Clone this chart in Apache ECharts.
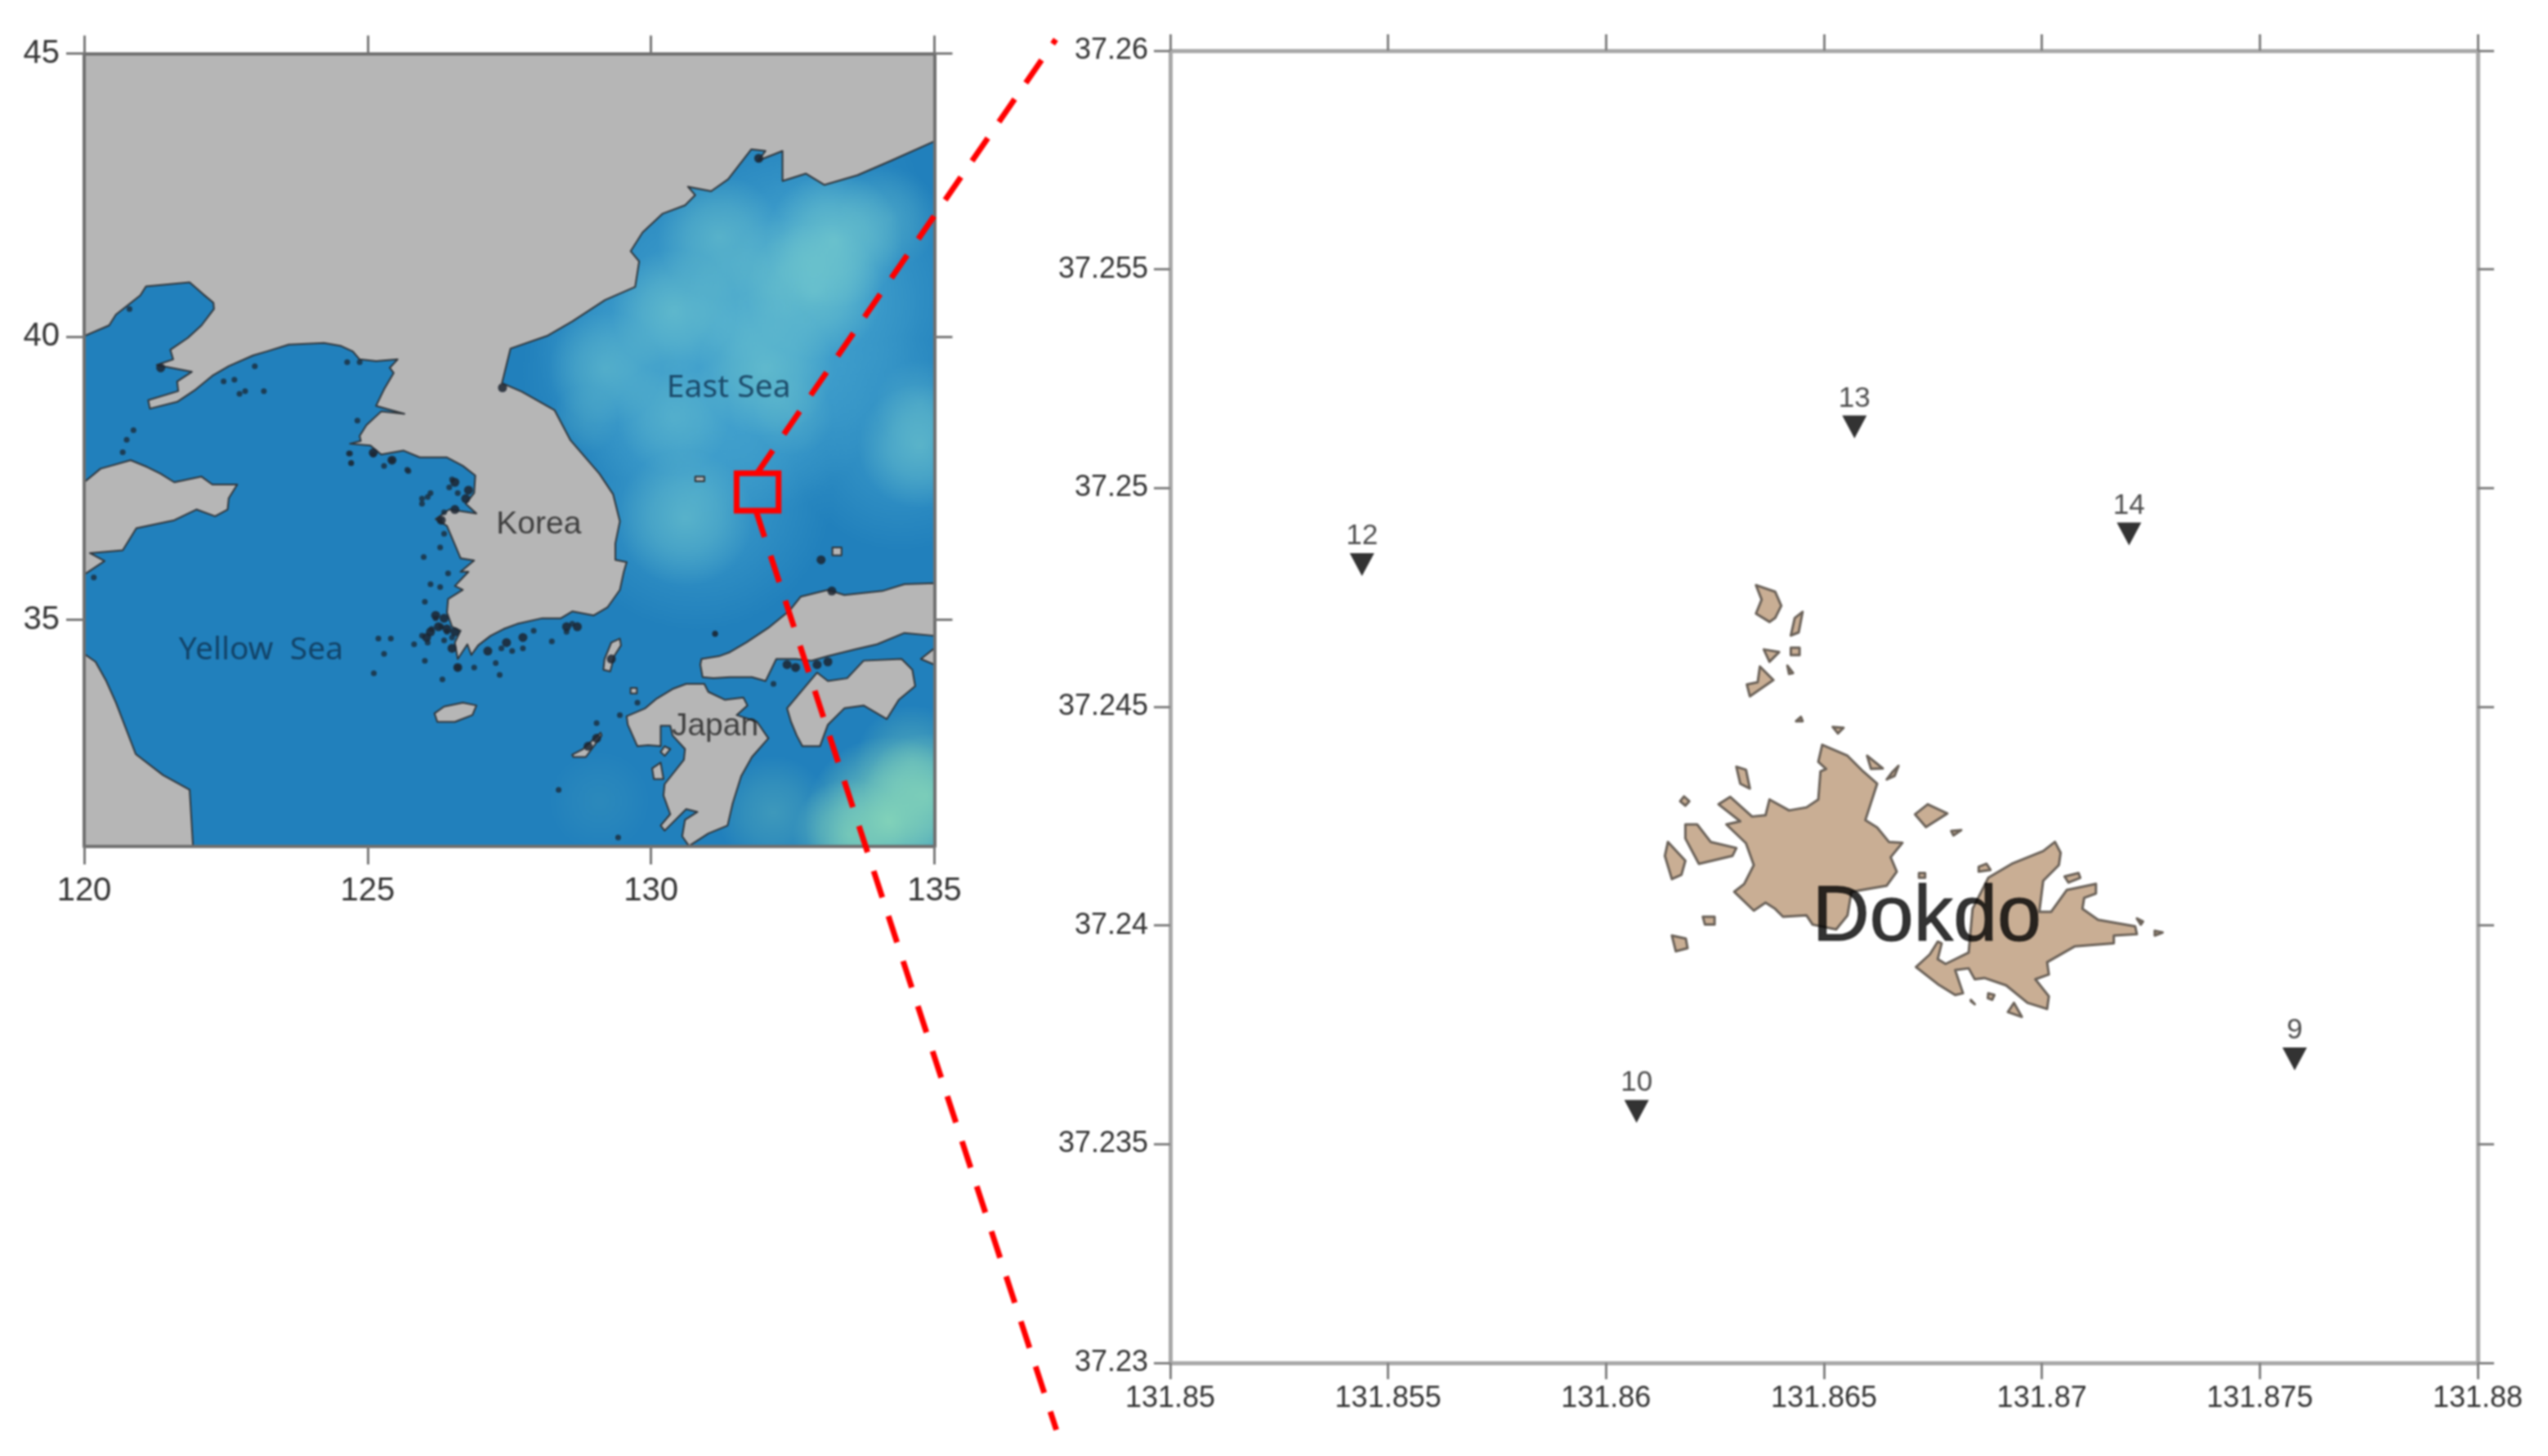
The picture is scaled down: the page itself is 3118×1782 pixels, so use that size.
<!DOCTYPE html>
<html lang="en">
<head>
<meta charset="UTF-8">
<title>Dokdo</title>
<style>
html,body{margin:0;padding:0;background:#fff;}
#chart{width:3118px;height:1782px;filter:blur(0.8px);}
</style>
</head>
<body>
<div id="chart"></div>
<script src="https://cdn.jsdelivr.net/npm/echarts@6/dist/echarts.min.js"></script>
<script>
// ticks
var mapLonTicks = [120, 125, 130, 135];
var mapLatTicks = [35, 40, 45];
var dokdoLonTicks = [131.85, 131.855, 131.86, 131.865, 131.87, 131.875, 131.88];
var dokdoLatTicks = [37.23, 37.235, 37.24, 37.245, 37.25, 37.255, 37.26];

// coast lines, lon/lat
var northLand = [[120,40.01],[120.44,40.20],[120.56,40.39],[120.99,40.73],[121.09,40.89],[121.86,40.96],[122.10,40.75],[122.28,40.60],[122.29,40.49],[122.07,40.20],[121.83,39.98],[121.52,39.77],[121.57,39.60],[121.28,39.50],[121.90,39.38],[121.64,39.21],[121.66,39.04],[121.13,38.88],[121.16,38.73],[121.64,38.85],[121.97,39.07],[122.26,39.31],[122.55,39.48],[122.98,39.67],[123.22,39.74],[123.61,39.86],[124.23,39.89],[124.52,39.84],[124.74,39.74],[124.86,39.60],[125.15,39.57],[125.53,39.60],[125.39,39.45],[125.46,39.36],[125.29,39.07],[125.15,38.78],[125.39,38.71],[125.65,38.64],[125.24,38.68],[124.98,38.44],[124.86,38.25],[124.88,38.16],[124.69,38.11],[125.05,38.08],[125.24,37.92],[125.63,37.99],[125.92,37.87],[126.40,37.87],[126.68,37.72],[126.90,37.55],[126.88,37.24],[126.73,37.05],[126.92,36.88],[126.44,36.95],[126.20,36.78],[126.40,36.66],[126.54,36.33],[126.64,36.09],[126.88,36.05],[126.64,35.85],[126.78,35.85],[126.54,35.60],[126.68,35.53],[126.42,35.37],[126.40,35.13],[126.49,34.88],[126.64,34.81],[126.54,34.60],[126.59,34.31],[126.76,34.57],[126.83,34.38],[126.95,34.55],[127.17,34.72],[127.40,34.84],[127.64,34.93],[128.08,35.03],[128.41,35.03],[128.61,35.15],[128.99,35.08],[129.23,35.22],[129.45,35.53],[129.52,35.85],[129.57,36.02],[129.37,36.06],[129.37,36.35],[129.45,36.74],[129.33,37.22],[129.09,37.58],[128.58,38.17],[128.30,38.70],[127.72,39.03],[127.37,39.18],[127.52,39.79],[128.18,40.02],[128.61,40.27],[129.19,40.65],[129.72,40.88],[129.79,41.33],[129.64,41.51],[129.85,41.84],[130.20,42.17],[130.60,42.32],[130.78,42.50],[130.65,42.65],[131.06,42.57],[131.36,42.78],[131.77,43.31],[132.02,43.28],[131.89,43.11],[132.32,43.28],[132.32,42.75],[132.73,42.88],[133.06,42.68],[133.64,42.85],[134.24,43.11],[135,43.45],[135,45],[120,45]];
var shandong = [[120,37.43],[120.29,37.67],[120.82,37.82],[121.11,37.70],[121.35,37.58],[121.59,37.43],[122.07,37.53],[122.26,37.39],[122.70,37.39],[122.55,37.15],[122.53,36.95],[122.31,36.83],[121.98,36.95],[121.59,36.76],[120.92,36.62],[120.68,36.23],[120.10,36.18],[120.36,36.04],[120,35.80]];
var jiangsu = [[120,34.40],[120.2,34.26],[120.39,33.92],[120.56,33.54],[120.91,32.63],[121.39,32.26],[121.86,32.0],[121.92,31],[120,31]];
var jeju = [[126.18,33.35],[126.35,33.47],[126.68,33.54],[126.92,33.49],[126.85,33.32],[126.54,33.20],[126.23,33.20]];
var tsushima = [[129.45,34.67],[129.47,34.55],[129.35,34.36],[129.28,34.09],[129.16,34.12],[129.18,34.31],[129.30,34.60]];
var honshu = [[130.89,34.31],[131.20,34.36],[131.39,34.43],[131.68,34.60],[132.07,34.86],[132.45,35.17],[132.64,35.41],[133.12,35.53],[133.41,35.44],[134.08,35.51],[134.47,35.63],[135,35.65],[135,34.72],[134.47,34.77],[133.99,34.57],[133.60,34.48],[133.12,34.36],[132.83,34.28],[132.55,34.31],[132.21,34.31],[132.02,33.92],[131.78,33.99],[131.39,33.99],[131.10,33.97],[130.91,33.99],[130.87,34.21]];
var kyushu = [[130.94,33.87],[131.01,33.73],[131.30,33.59],[131.63,33.63],[131.70,33.49],[131.51,33.32],[131.87,33.20],[132.07,32.91],[131.78,32.58],[131.59,32.24],[131.44,31.76],[131.35,31.37],[131.01,31.23],[130.67,31.01],[130.55,31.18],[130.60,31.47],[130.82,31.61],[130.62,31.66],[130.24,31.28],[130.17,31.37],[130.34,31.57],[130.22,31.90],[130.24,32.10],[130.58,32.53],[130.60,32.72],[130.38,32.96],[130.34,33.13],[130.17,33.13],[130.17,32.77],[129.95,32.79],[129.76,32.77],[129.59,33.15],[129.57,33.30],[129.90,33.44],[130.10,33.61],[130.38,33.78],[130.62,33.87]];
var shikoku = [[132.40,33.44],[132.93,34.07],[133.12,33.92],[133.46,33.97],[133.75,34.28],[134.42,34.31],[134.61,34.12],[134.66,33.83],[134.37,33.59],[134.16,33.25],[133.75,33.49],[133.41,33.44],[133.12,33.15],[132.98,32.77],[132.67,32.77],[132.57,32.96],[132.47,33.20]];
var awaji = [[134.76,34.31],[135,34.50],[135,34.21]];
var amakusa = [[130.02,32.38],[130.17,32.48],[130.22,32.19],[130.05,32.19]];
var shimabara = [[130.24,32.77],[130.34,32.72],[130.24,32.60],[130.17,32.67]];
var goto = [[128.61,32.62],[128.80,32.72],[129.11,33.01],[129.13,32.96],[128.85,32.58],[128.63,32.58]];
var iki = [[129.64,33.80],[129.75,33.80],[129.75,33.70],[129.64,33.70]];
var oki = [[133.2,36.28],[133.36,36.28],[133.36,36.14],[133.2,36.14]];
var ulleung = [[130.78,37.53],[130.94,37.53],[130.94,37.45],[130.78,37.45]];
var mapLand = [northLand, shandong, jiangsu, jeju, tsushima, honshu, kyushu, shikoku, awaji, amakusa, shimabara, goto, iki, oki, ulleung];

// small rocks along the coasts
var islets = [[125.43,37.82],[125.29,37.72],[124.69,37.94],[124.71,37.77],[125.70,37.65],[126.49,37.48],[126.59,37.24],[126.44,37.34],[126.35,36.90],[126.06,37.17],[125.96,37.05],[126.28,36.76],[126.35,36.52],[125.99,36.11],[126.28,36.28],[126.42,35.82],[126.11,35.63],[126.28,35.58],[126.01,35.32],[126.20,35.03],[126.30,34.88],[126.13,34.84],[125.96,34.72],[126.06,34.60],[126.40,34.79],[126.49,34.69],[126.35,34.64],[126.01,34.28],[126.59,34.16],[126.88,34.16],[127.33,34.03],[125.19,34.67],[125.41,34.67],[125.29,34.40],[125.11,34.06],[125.82,34.57],[126.32,33.95],[127.26,34.24],[127.74,34.50],[127.55,34.45],[127.36,34.50],[128.25,34.62],[128.51,34.79],[128.61,34.93],[127.93,34.81],[131.13,34.75],[128.37,32.0],[129.42,31.16],[122.46,39.21],[122.65,39.24],[122.84,39.04],[123.17,39.04],[122.74,38.99],[123.01,39.48],[120.87,38.35],[120.75,38.18],[120.68,37.96],[124.64,39.55],[124.86,39.55],[124.82,38.52],[124.67,37.94],[124.71,37.77],[125.1,37.92],[125.72,37.63],[125.96,37.14],[126.11,37.24],[120.80,40.49],[120.17,35.75],[132.16,33.87],[131.13,34.76],[129.76,33.54],[129.45,33.32],[129.04,33.18]];
var rockClusters = [[121.35,39.45],[125.43,37.82],[125.1,37.95],[126.54,37.43],[126.78,37.29],[126.73,37.14],[126.54,36.95],[126.30,36.76],[126.20,35.08],[126.35,35.03],[126.25,34.88],[126.04,34.69],[126.11,34.79],[126.40,34.84],[126.54,34.79],[126.49,34.50],[126.59,34.16],[127.74,34.69],[127.45,34.60],[127.12,34.45],[128.51,34.88],[128.70,34.88],[129.30,34.31],[132.40,34.21],[132.55,34.16],[132.93,34.21],[133.12,34.26],[133.19,35.51],[133.0,36.06],[127.38,39.1],[131.9,43.15],[129.04,32.91],[128.89,32.77]];

// lighter water, lon, lat, radius in degrees, strength
var eastSeaBase = [[131.3,40.3,3.4,0.7],[133.4,40.7,2.4,0.55],[130.8,37.2,2.4,0.55],[134.4,38.1,1.9,0.45],[129.6,39.4,1.9,0.4],[132,38.8,1.9,0.35],[133,42.4,1.8,0.3]];
var eastSeaPeaks = [[131.21,41.76,1.1,0.5],[133.23,41.71,1.2,0.7],[132.88,40.80,1.2,0.6],[130.40,40.45,1.1,0.55],[129.19,39.44,1.0,0.4],[132.02,39.44,1.2,0.55],[130.40,38.58,1.0,0.35],[134.75,38.07,1.1,0.55],[130.6,36.8,1.2,0.5],[131.6,40.6,1.0,0.3],[132.3,41.2,0.9,0.3],[128.83,38.53,0.6,0.2],[134.2,42.1,0.9,0.3],[132.5,38.6,0.7,0.25],[134.75,38.8,0.8,0.25]];
var southPeaks = [[134.2,31.45,1.5,0.9],[134.85,31.9,1.1,0.7],[133.5,31.2,1.0,0.6],[134.6,32.5,1.0,0.4],[132.16,31.6,1.0,0.28],[129.09,31.8,0.9,0.1]];

// zoom box and the two dashed leaders
var zoomBox = [[131.51,37.59],[132.25,37.59],[132.25,36.93],[131.51,36.93]];
var leaderUp = [[131.87,37.59],[137.14,45.25]];
var leaderDown = [[131.85,36.93],[137.15,20.70]];

var mapNames = [[123.12,34.46,'Yellow  Sea'],[131.37,39.1,'East Sea']];
var mapLandNames = [[128.02,36.68,'Korea'],[131.13,33.12,'Japan']];

// Dokdo
var dokdoWest = [[131.86496,37.24413],[131.86554,37.24388],[131.86590,37.24352],[131.86622,37.24324],[131.86595,37.24241],[131.86622,37.24224],[131.86649,37.24191],[131.86680,37.24189],[131.86653,37.24156],[131.86667,37.24123],[131.86644,37.24091],[131.86563,37.24077],[131.86554,37.24023],[131.86528,37.23991],[131.86474,37.24002],[131.86460,37.24023],[131.86406,37.24020],[131.86388,37.24038],[131.86366,37.24052],[131.86339,37.24034],[131.86294,37.24077],[131.86317,37.24095],[131.86339,37.24138],[131.86321,37.24188],[131.86276,37.24231],[131.86308,37.24238],[131.86258,37.24277],[131.86285,37.24294],[131.86335,37.24249],[131.86366,37.24252],[131.86375,37.24288],[131.86420,37.24263],[131.86460,37.24270],[131.86487,37.24288],[131.86492,37.24352],[131.86505,37.24358],[131.86487,37.24374]];
var dokdoEast = [[131.87030,37.24191],[131.87043,37.24166],[131.87039,37.24138],[131.87003,37.24102],[131.86994,37.24031],[131.87021,37.24031],[131.87057,37.24081],[131.87124,37.24095],[131.87124,37.24073],[131.87097,37.24063],[131.87093,37.24038],[131.87129,37.24013],[131.87214,37.23998],[131.87218,37.23980],[131.87165,37.23977],[131.87165,37.23959],[131.87075,37.23952],[131.87012,37.23916],[131.87016,37.23888],[131.86985,37.23877],[131.87016,37.23838],[131.87012,37.23809],[131.86967,37.23823],[131.86918,37.23863],[131.86868,37.23880],[131.86846,37.23877],[131.86832,37.23902],[131.86801,37.23898],[131.86819,37.23845],[131.86801,37.23841],[131.86761,37.23866],[131.86711,37.23905],[131.86743,37.23934],[131.86761,37.23963],[131.86770,37.23959],[131.86761,37.23923],[131.86779,37.23912],[131.86832,37.23938],[131.86841,37.24038],[131.86877,37.24109],[131.86931,37.24141],[131.87003,37.24170]];
var dokdoRocks = [
  [[131.86344,37.24778],[131.86388,37.24763],[131.86402,37.24731],[131.86388,37.24703],[131.86375,37.24694],[131.86344,37.24713],[131.86357,37.24745]],
  [[131.86451,37.24717],[131.86442,37.24670],[131.86424,37.24663],[131.86433,37.24703]],
  [[131.86362,37.24631],[131.86397,37.24625],[131.86375,37.24603]],
  [[131.86424,37.24635],[131.86444,37.24635],[131.86444,37.24618],[131.86424,37.24618]],
  [[131.86353,37.24592],[131.86384,37.24561],[131.86330,37.24524],[131.86323,37.24551],[131.86348,37.24556]],
  [[131.86416,37.24594],[131.86429,37.24577],[131.86420,37.24575]],
  [[131.86447,37.24477],[131.86451,37.24467],[131.86436,37.24467]],
  [[131.86520,37.24454],[131.86545,37.24452],[131.86532,37.24439]],
  [[131.86299,37.24363],[131.86321,37.24356],[131.86330,37.24313],[131.86308,37.24324]],
  [[131.86599,37.24388],[131.86635,37.24359],[131.86608,37.24358]],
  [[131.86671,37.24365],[131.86662,37.24342],[131.86644,37.24334],[131.86658,37.24352]],
  [[131.86179,37.24295],[131.86191,37.24284],[131.86182,37.24274],[131.86170,37.24284]],
  [[131.86182,37.24231],[131.86209,37.24231],[131.86240,37.24191],[131.86299,37.24177],[131.86290,37.24159],[131.86213,37.24141],[131.86182,37.24199]],
  [[131.86142,37.24191],[131.86182,37.24148],[131.86173,37.24116],[131.86151,37.24106],[131.86135,37.24159]],
  [[131.86222,37.24020],[131.86249,37.24020],[131.86249,37.24002],[131.86227,37.24002]],
  [[131.86151,37.23977],[131.86183,37.23970],[131.86187,37.23948],[131.86160,37.23941]],
  [[131.86738,37.24277],[131.86783,37.24256],[131.86734,37.24225],[131.86709,37.24254]],
  [[131.86792,37.24216],[131.86815,37.24218],[131.86797,37.24206]],
  [[131.86855,37.24134],[131.86873,37.24141],[131.86882,37.24127],[131.86855,37.24123]],
  [[131.86718,37.24120],[131.86732,37.24120],[131.86732,37.24109],[131.86718,37.24109]],
  [[131.87052,37.24112],[131.87084,37.24120],[131.87088,37.24109],[131.87061,37.24098]],
  [[131.87218,37.24016],[131.87232,37.24009],[131.87227,37.24002]],
  [[131.87259,37.23988],[131.87277,37.23984],[131.87259,37.23977]],
  [[131.86877,37.23845],[131.86891,37.23841],[131.86886,37.23830],[131.86876,37.23834]],
  [[131.86837,37.23830],[131.86846,37.23820],[131.86837,37.23827]],
  [[131.86936,37.23823],[131.86954,37.23791],[131.86922,37.23802]]
];
var stationIds = ['12','13','14','9','10'];
var stationLon = [131.8544,131.8657,131.8720,131.8758,131.8607];
var stationLat = [37.24825,37.2514,37.24895,37.23695,37.23575];
var dokdoName = [[131.86736,37.24015,'Dokdo']];

var fontName = '"Liberation Sans", Arial, sans-serif';
var chart = echarts.init(document.getElementById('chart'));

function axisFor(gridIndex, position, min, max, ticks, opt){
  var labelled = position == 'bottom' || position == 'left';
  return {
    type: 'value', gridIndex: gridIndex, position: position, min: min, max: max, z: 5,
    axisLine: {show: true, onZero: false, lineStyle: {color: opt.line, width: opt.lineWidth}},
    axisTick: {show: true, customValues: ticks, length: opt.tick, lineStyle: {color: opt.tickColor, width: 3}},
    axisLabel: {
      show: labelled, customValues: ticks, margin: position == 'left' ? opt.marginY : opt.marginX,
      fontFamily: fontName, fontSize: opt.font, color: '#333',
      formatter: function(v){ return String(+v.toFixed(3)); }
    },
    splitLine: {show: false}
  };
}
var mapAxis = {line: '#6f6f6f', lineWidth: 4, tick: 22, tickColor: '#777', font: 40, marginY: 30, marginX: 35};
var dokdoAxis = {line: '#a8a8a8', lineWidth: 5, tick: 20, tickColor: '#808080', font: 36, marginY: 27, marginX: 26};

function polygonSeries(coords, xi, yi, fill, stroke, width, z){
  return {
    type: 'custom', xAxisIndex: xi, yAxisIndex: yi, clip: true, silent: true, z: z,
    data: coords,
    renderItem: function(params, api){
      if (params.dataIndex !== 0) return;
      return {type: 'polygon', shape: {points: coords.map(function(p){ return api.coord(p); })},
        style: {fill: fill, stroke: stroke, lineWidth: width, lineJoin: 'round'}};
    }
  };
}
function blobSeries(list, rgb, z){
  return {
    type: 'custom', xAxisIndex: 0, yAxisIndex: 0, clip: true, silent: true, z: z,
    data: list,
    renderItem: function(params, api){
      var c = api.coord([api.value(0), api.value(1)]);
      var r = api.size([api.value(2), 0])[0];
      var a = api.value(3);
      return {type: 'circle', shape: {cx: c[0], cy: c[1], r: r},
        style: {fill: new echarts.graphic.RadialGradient(0.5, 0.5, 0.5, [
          {offset: 0, color: 'rgba(' + rgb + ',' + a + ')'},
          {offset: 0.5, color: 'rgba(' + rgb + ',' + (a * 0.6) + ')'},
          {offset: 1, color: 'rgba(' + rgb + ',0)'}
        ])}};
    }
  };
}
function textSeries(list, xi, yi, size, color, family, border){
  return {
    type: 'scatter', xAxisIndex: xi, yAxisIndex: yi, symbolSize: 1, silent: true, z: 8,
    itemStyle: {color: 'transparent'},
    data: list,
    label: {show: true, position: 'inside', fontFamily: family, fontSize: size, color: color,
      textBorderColor: color, textBorderWidth: border || 0,
      formatter: function(p){ return p.data[2]; }}
  };
}
// the leaders run out of the map panel, so no clipping here
function redLine(points, closed, dash){
  return {
    type: 'custom', xAxisIndex: 0, yAxisIndex: 0, clip: false, silent: true, z: 12,
    data: points,
    renderItem: function(params, api){
      if (params.dataIndex !== 0) return;
      return {type: closed ? 'polygon' : 'polyline',
        shape: {points: points.map(function(p){ return api.coord(p); })},
        style: {fill: 'none', stroke: '#ff0000', lineWidth: 7, lineDash: dash, lineCap: 'butt', lineJoin: 'miter'}};
    }
  };
}

var series = [];
series.push(blobSeries(eastSeaBase, '80,175,212', 1));
series.push(blobSeries(eastSeaPeaks, '120,205,205', 1));
series.push(blobSeries(southPeaks, '135,215,185', 1));
mapLand.forEach(function(poly){
  series.push(polygonSeries(poly, 0, 0, '#b6b6b6', '#2e3338', 2, 3));
});
series.push({
  type: 'scatter', xAxisIndex: 0, yAxisIndex: 0, silent: true, z: 4, symbolSize: 7,
  itemStyle: {color: '#1c2b3a', opacity: 0.8}, data: islets
});
series.push({
  type: 'scatter', xAxisIndex: 0, yAxisIndex: 0, silent: true, z: 4, symbolSize: 11,
  itemStyle: {color: '#1c2530', opacity: 0.85}, data: rockClusters
});
series.push(textSeries(mapNames, 0, 0, 39, '#0f3352', '"Noto Sans", sans-serif'));
series.push(textSeries(mapLandNames, 0, 0, 39, '#222', fontName));
series.push(redLine(zoomBox, true, null));
series.push(redLine(leaderUp, false, [34, 24]));
series.push(redLine(leaderDown, false, [34, 24]));

series.push(polygonSeries(dokdoWest, 2, 2, '#c9ae94', '#6a6158', 3, 3));
series.push(polygonSeries(dokdoEast, 2, 2, '#c9ae94', '#6a6158', 3, 3));
dokdoRocks.forEach(function(poly){
  series.push(polygonSeries(poly, 2, 2, '#c9ae94', '#6a6158', 3, 3));
});
series.push({
  type: 'scatter', xAxisIndex: 2, yAxisIndex: 2, silent: true, z: 6,
  symbol: 'triangle', symbolRotate: 180, symbolSize: [30, 28],
  itemStyle: {color: '#000'},
  data: stationIds.map(function(id, i){ return {name: id, value: [stationLon[i], stationLat[i]]}; }),
  label: {show: true, position: 'top', distance: 3, formatter: '{b}', fontFamily: fontName, fontSize: 35, color: '#222'}
});
series.push(textSeries(dokdoName, 2, 2, 97, '#000', fontName, 1));

chart.setOption({
  animation: false,
  backgroundColor: '#ffffff',
  grid: [
    {left: 103, top: 65.5, width: 1040.5, height: 970.5, show: true, backgroundColor: '#2180bc', borderWidth: 0},
    {left: 1432, top: 62, width: 1600, height: 1606, show: false}
  ],
  xAxis: [
    axisFor(0, 'bottom', 120, 135, mapLonTicks, mapAxis),
    axisFor(0, 'top', 120, 135, mapLonTicks, mapAxis),
    axisFor(1, 'bottom', 131.85, 131.88, dokdoLonTicks, dokdoAxis),
    axisFor(1, 'top', 131.85, 131.88, dokdoLonTicks, dokdoAxis)
  ],
  yAxis: [
    axisFor(0, 'left', 31, 45, mapLatTicks, mapAxis),
    axisFor(0, 'right', 31, 45, mapLatTicks, mapAxis),
    axisFor(1, 'left', 37.23, 37.26, dokdoLatTicks, dokdoAxis),
    axisFor(1, 'right', 37.23, 37.26, dokdoLatTicks, dokdoAxis)
  ],
  series: series
});
</script>
</body>
</html>
